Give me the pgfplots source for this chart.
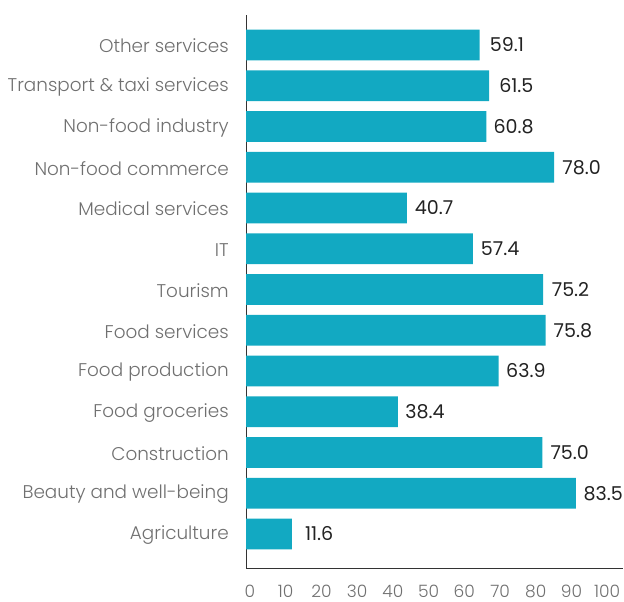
\documentclass[border=0pt]{standalone}
\usepackage{pgfplots}
\pgfplotsset{compat=1.18}
\usepackage{fontspec}
\setmainfont{Poppins}
\newfontfamily\poplight{Poppins Light}
\definecolor{barc}{HTML}{12A9C2}
\definecolor{labc}{HTML}{707070}
\definecolor{valc}{HTML}{222222}
\begin{document}
\begin{tikzpicture}
\path[use as bounding box] (0,0) rectangle (468pt,-451.5pt);
\begin{axis}[
  at={(184.5pt,-426pt)}, anchor=south west,
  scale only axis, width=282.75pt, height=414.75pt,
  xbar, bar width=0.753,
  xmin=0, xmax=95.4, ymin=-0.834, ymax=12.736,
  axis lines*=left,
  axis line style={color=black!80, line width=0.75pt},
  major tick length=0pt,
  ytick={0,...,12},
  yticklabels={Agriculture,Beauty and well-being,Construction,Food groceries,Food production,Food services,Tourism,IT,Medical services,Non-food commerce,Non-food industry,Transport \& taxi services,Other services},
  yticklabel style={font=\poplight\fontsize{13.8pt}{15pt}\selectfont, color=labc, anchor=east, inner sep=0pt, xshift=-12.75pt, yshift=-0.75pt},
  xtick={1.01,10.05,19.09,28.13,37.17,46.21,55.25,64.29,73.33,82.37,91.41},
  xticklabels={0,10,20,30,40,50,60,70,80,90,100},
  xticklabel style={font=\poplight\fontsize{12.8pt}{14pt}\selectfont, color=labc, anchor=north, inner sep=0pt, text depth=0pt, yshift=-12.75pt},
  nodes near coords,
  point meta=explicit symbolic,
  nodes near coords style={anchor=center, xshift=20.5pt, inner sep=0pt, font=\fontsize{14.3pt}{16pt}\selectfont, color=valc},
]
\addplot[fill=barc, draw=none] coordinates {
  (11.6,0) [11.6]
  (83.5,1) [83.5]
  (75.0,2) [75.0]
  (38.4,3) [38.4]
  (63.9,4) [63.9]
  (75.8,5) [75.8]
  (75.2,6) [75.2]
  (57.4,7) [57.4]
  (40.7,8) [40.7]
  (78.0,9) [78.0]
  (60.8,10) [60.8]
  (61.5,11) [61.5]
  (59.1,12) [59.1]
};
\end{axis}
\end{tikzpicture}
\end{document}
